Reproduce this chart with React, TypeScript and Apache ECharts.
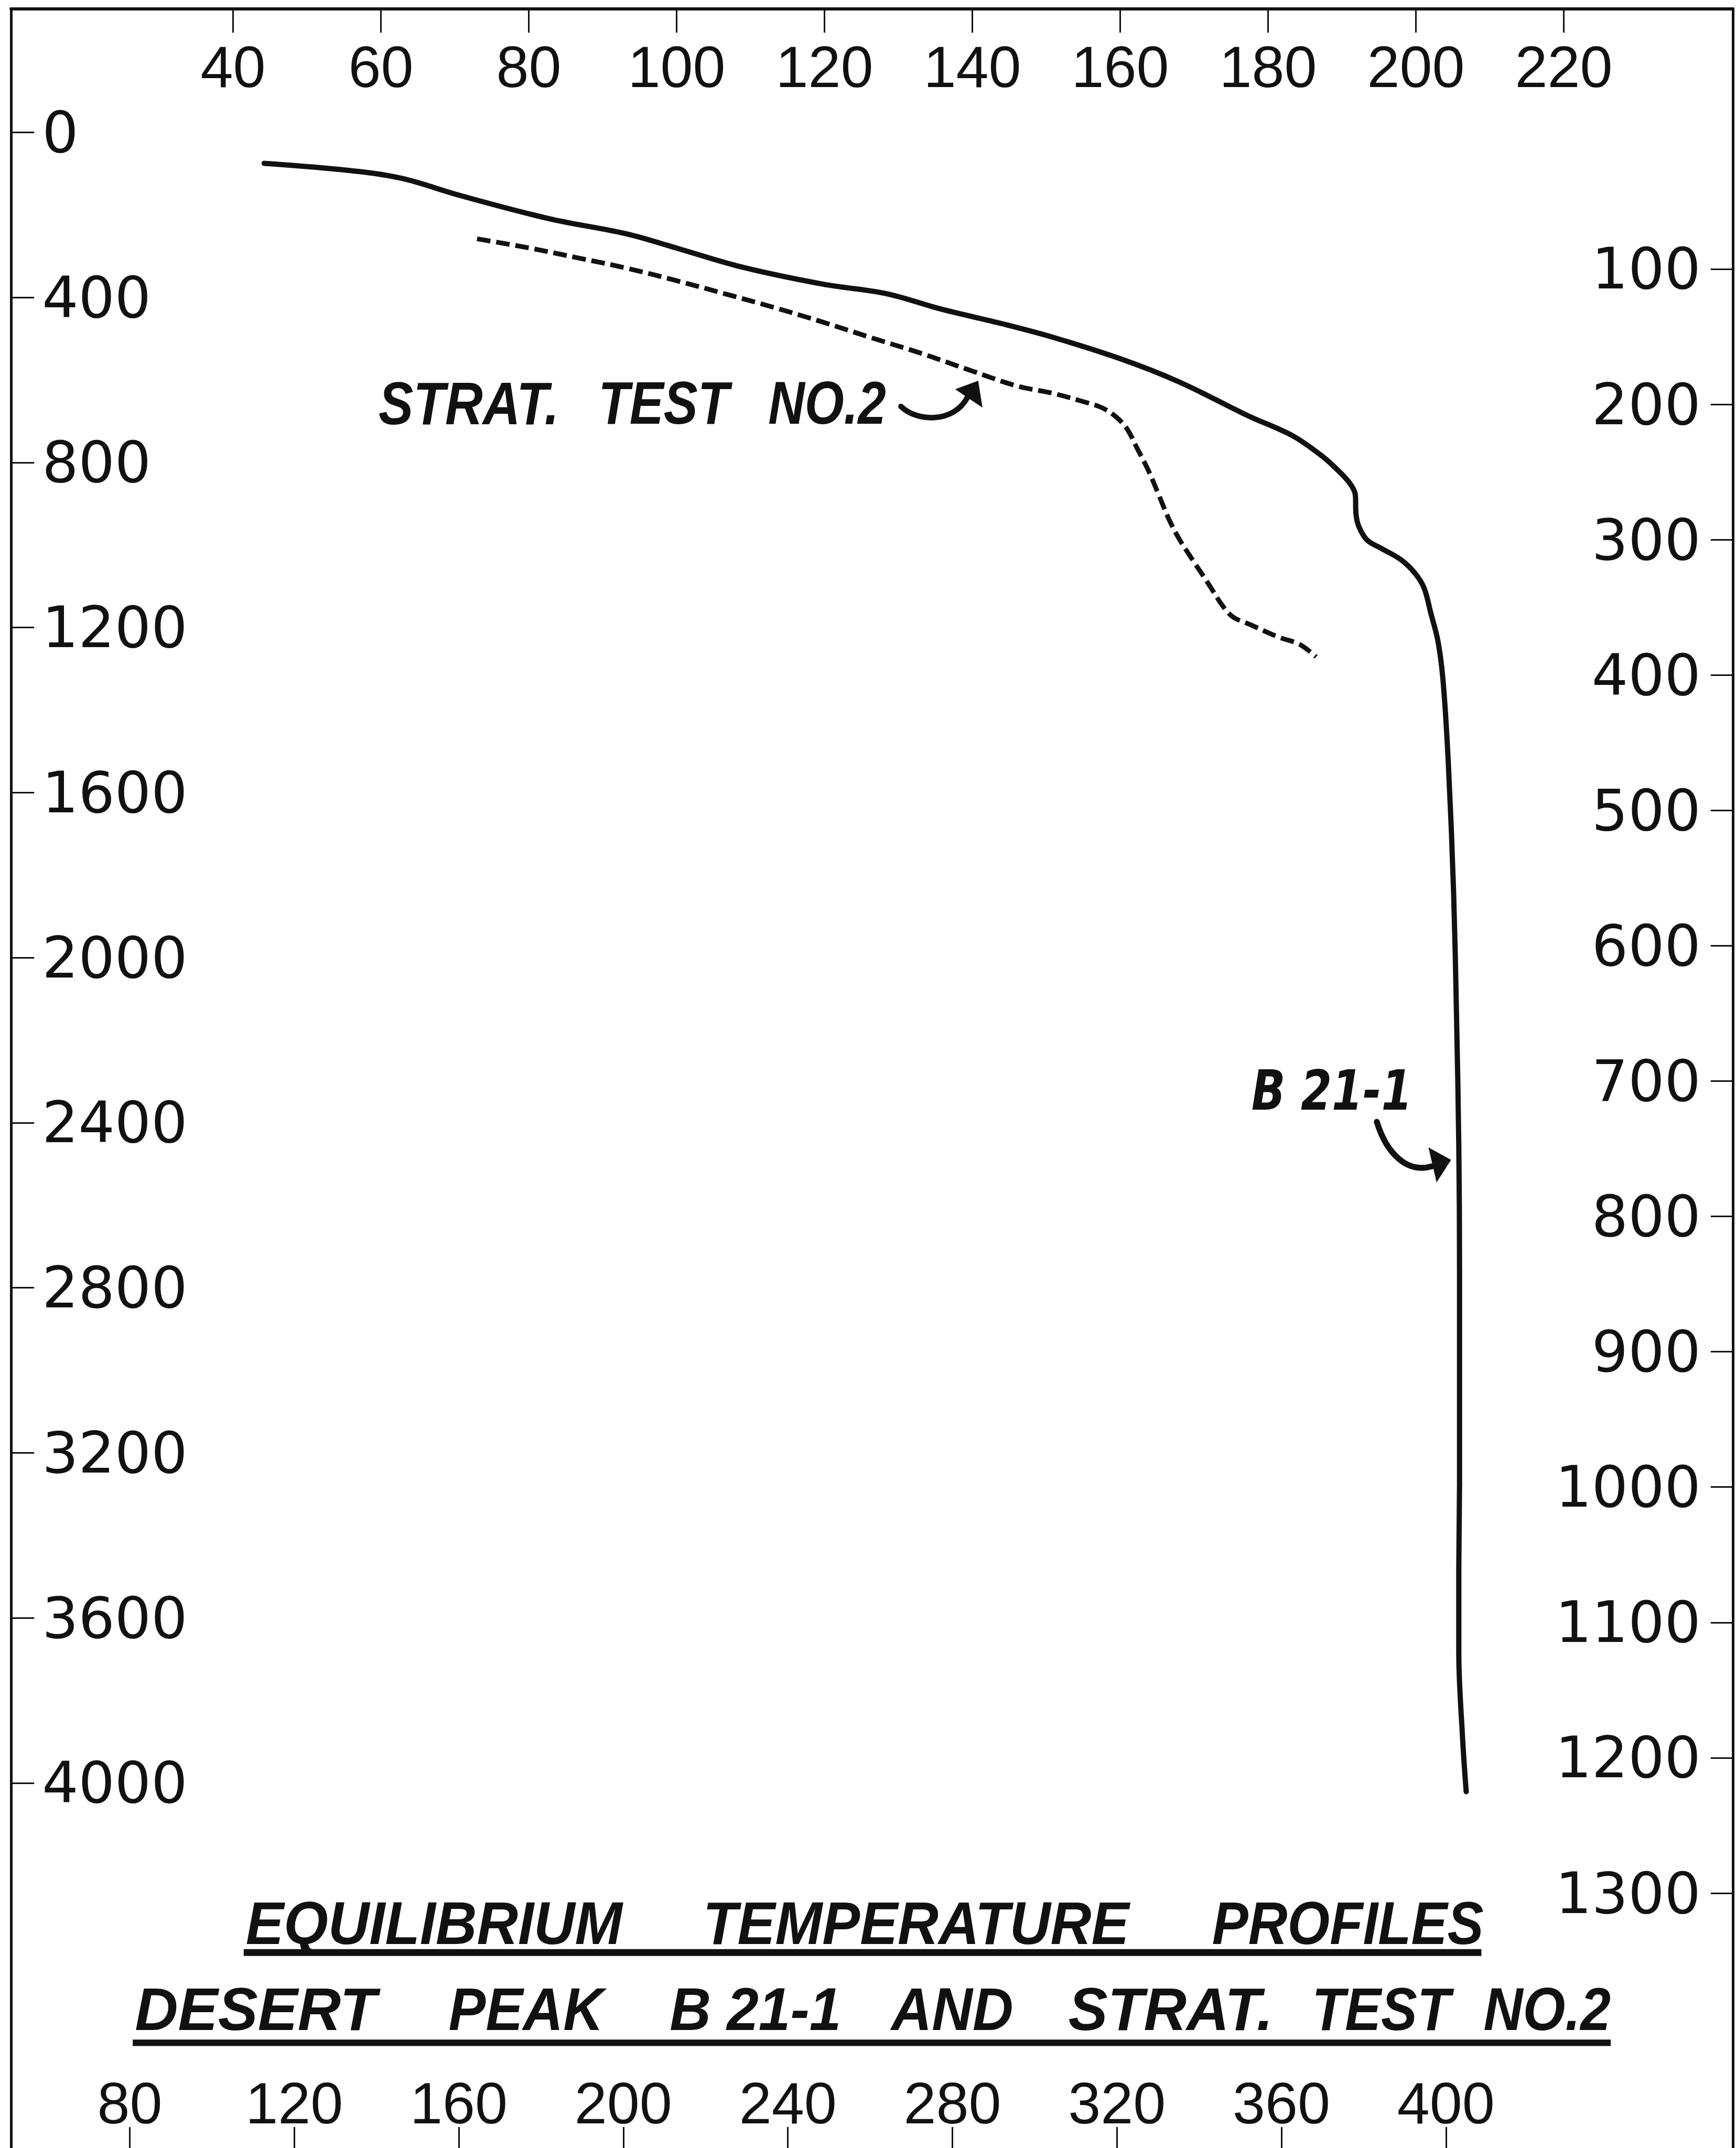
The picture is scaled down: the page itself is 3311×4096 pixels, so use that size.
import React, { useEffect, useRef } from "react";
import * as echarts from "echarts";

const S = 0.814;
const W = 3311;
const H = 4096;
const INK = "#111111";

// Axis ticks
const celsiusTicks = [40, 60, 80, 100, 120, 140, 160, 180, 200, 220];
const fahrenheitTicks = [80, 120, 160, 200, 240, 280, 320, 360, 400];
const feetTicks = [0, 400, 800, 1200, 1600, 2000, 2400, 2800, 3200, 3600, 4000];
const meterTicks = [100, 200, 300, 400, 500, 600, 700, 800, 900, 1000, 1100, 1200, 1300];

// Axis ranges
const C_MIN = 9.97, C_MAX = 242.86;
const F_MIN = 51.15, F_MAX = 469.73;
const FT_MIN = -300.05, FT_MAX = 4884.6;
const M_MIN = -92.43, M_MAX = 1488.3;

// B 21-1 : temperature (°C) vs depth (ft)
const b21Temp = [44.2, 55.5, 62.7, 70.7, 82.7, 93.2, 99.9, 108.5, 119.8, 128.4, 135.7, 144.1, 150.8, 160.4, 168.0, 177.2, 183.4, 187.2, 189.1, 191.0, 191.8, 191.9, 192.3, 193.4, 195.4, 198.0, 199.9, 201.1, 202.0, 203.0, 203.7, 204.4, 205.1, 205.5, 205.8, 205.9, 205.9, 205.9, 205.8, 205.8, 206.3, 206.8];
const b21Depth = [75, 92, 111, 153, 209, 246, 280, 325, 368, 391, 428, 464, 496, 551, 605, 686, 736, 783, 813, 849, 878, 926, 956, 988, 1009, 1036, 1069, 1104, 1164, 1235, 1335, 1535, 1843, 2149, 2456, 2763, 3070, 3275, 3479, 3683, 3888, 4021];

// Strat. Test No.2 : temperature (°C) vs depth (ft)
const stratTemp = [73.0, 80.0, 86.6, 93.2, 99.9, 106.5, 113.1, 119.8, 126.4, 133.0, 139.6, 146.1, 150.8, 155.1, 157.5, 159.4, 160.9, 162.3, 163.8, 165.2, 166.6, 168.0, 169.9, 171.9, 173.8, 175.3, 177.6, 181.4, 184.3, 186.5];
const stratDepth = [258, 280, 304, 329, 359, 391, 424, 460, 498, 535, 576, 615, 632, 653, 667, 689, 718, 766, 819, 878, 938, 986, 1039, 1093, 1146, 1175, 1193, 1223, 1241, 1271];

// Texts
const titleLine1 = ["EQUILIBRIUM", "TEMPERATURE", "PROFILES"];
const titleLine2 = ["DESERT", "PEAK", "B 21-1", "AND", "STRAT.", "TEST", "NO.2"];
const stratLabel = ["STRAT.", "TEST", "NO.2"];
const b21Label = "B 21-1";

const TITLE_FONT = '"Liberation Sans Narrow", "Liberation Sans", Arial, sans-serif';
const NUM_FONT_TB = '"Liberation Sans", Arial, sans-serif';
const NUM_FONT_LR = '"DejaVu Sans", sans-serif';

function measure(text: string, font: string): number {
  const c = document.createElement("canvas").getContext("2d");
  if (!c) return 1;
  c.font = font;
  return c.measureText(text).width || 1;
}

function fitText(text: string, x0: number, x1: number, yc: number, size: number, family: string, weight: string, style: string) {
  const fs = size * S;
  const w = measure(text, `${style} ${weight} ${fs}px ${family}`);
  const target = (x1 - x0) * S;
  return {
    type: "text",
    x: x0 * S,
    y: yc * S,
    scaleX: target / w,
    silent: true,
    style: {
      text,
      fill: INK,
      fontSize: fs,
      fontFamily: family,
      fontWeight: weight,
      fontStyle: style,
      align: "left",
      textAlign: "left",
      verticalAlign: "middle",
      textVerticalAlign: "middle",
    },
  };
}

const plain = (v: number) => String(v);

export default function App() {
  const ref = useRef<HTMLDivElement>(null);
  useEffect(() => {
    if (!ref.current) return;
    const chart = echarts.init(ref.current, null, { renderer: "svg" });

    const gridLeft = 26 * S;
    const gridTop = 20 * S;
    const gridRight = W - 4060 * S;

    const title1Pos = [[576, 1458], [1647, 2646], [2840, 3476]];
    const title2Pos = [[316, 882], [1051, 1414], [1569, 1971], [2088, 2374], [2503, 2983], [3074, 3398], [3476, 3774]];
    const stratPos = [[887, 1310], [1402, 1708], [1800, 2076]];

    const graphics: any[] = [];
    titleLine1.forEach((t, i) => graphics.push(fitText(t, title1Pos[i][0], title1Pos[i][1], 4505, 142, TITLE_FONT, "bold", "italic")));
    titleLine2.forEach((t, i) => graphics.push(fitText(t, title2Pos[i][0], title2Pos[i][1], 4706, 142, TITLE_FONT, "bold", "italic")));
    stratLabel.forEach((t, i) => graphics.push(fitText(t, stratPos[i][0], stratPos[i][1], 944, 142, TITLE_FONT, "bold", "italic")));
    graphics.push(fitText(b21Label, 2932, 3309, 2555, 129, NUM_FONT_LR, "bold", "italic"));

    // underlines
    graphics.push({ type: "rect", silent: true, shape: { x: 571 * S, y: 4566 * S, width: (3471 - 571) * S, height: 16 * S }, style: { fill: INK } });
    graphics.push({ type: "rect", silent: true, shape: { x: 311 * S, y: 4778 * S, width: (3774 - 311) * S, height: 15 * S }, style: { fill: INK } });

    // arrow for STRAT. TEST NO.2
    graphics.push({
      type: "bezierCurve", silent: true,
      shape: { x1: 2111 * S, y1: 952 * S, cpx1: 2150 * S, cpy1: 990 * S, cpx2: 2235 * S, cpy2: 990 * S, x2: 2266 * S, y2: 932 * S },
      style: { stroke: INK, lineWidth: 13 * S, fill: null, lineCap: "round" },
    });
    graphics.push({
      type: "polygon", silent: true,
      shape: { points: [[2292 * S, 892 * S], [2238 * S, 912 * S], [2302 * S, 955 * S]] },
      style: { fill: INK },
    });

    // arrow for B 21-1
    graphics.push({
      type: "bezierCurve", silent: true,
      shape: { x1: 3226 * S, y1: 2628 * S, cpx1: 3248 * S, cpy1: 2700 * S, cpx2: 3295 * S, cpy2: 2750 * S, x2: 3356 * S, y2: 2732 * S },
      style: { stroke: INK, lineWidth: 14 * S, fill: null, lineCap: "round" },
    });
    graphics.push({
      type: "polygon", silent: true,
      shape: { points: [[3400 * S, 2717 * S], [3347 * S, 2688 * S], [3366 * S, 2770 * S]] },
      style: { fill: INK },
    });

    chart.setOption({
      animation: false,
      backgroundColor: "#ffffff",
      grid: { left: gridLeft, top: gridTop, right: gridRight, bottom: 0, containLabel: false },
      xAxis: [
        {
          type: "value", position: "top", min: C_MIN, max: C_MAX,
          splitLine: { show: false },
          axisLine: { show: true, onZero: false, lineStyle: { color: INK, width: 6 } },
          axisTick: { show: true, inside: true, length: 46, customValues: celsiusTicks, lineStyle: { color: INK, width: 3 } },
          axisLabel: { show: true, inside: true, margin: 55, customValues: celsiusTicks, formatter: plain, color: INK, fontSize: 111.5, fontFamily: NUM_FONT_TB },
        },
        {
          type: "value", position: "bottom", min: F_MIN, max: F_MAX,
          splitLine: { show: false },
          axisLine: { show: false, onZero: false },
          axisTick: { show: true, inside: true, length: 40, customValues: fahrenheitTicks, lineStyle: { color: INK, width: 3 } },
          axisLabel: { show: true, inside: true, margin: 30, customValues: fahrenheitTicks, formatter: plain, color: INK, fontSize: 111.5, fontFamily: NUM_FONT_TB },
        },
      ],
      yAxis: [
        {
          type: "value", position: "left", inverse: true, min: FT_MIN, max: FT_MAX,
          splitLine: { show: false },
          axisLine: { show: true, onZero: false, lineStyle: { color: INK, width: 5 } },
          axisTick: { show: true, inside: true, length: 44, customValues: feetTicks, lineStyle: { color: INK, width: 3 } },
          axisLabel: { show: true, inside: true, margin: 59, customValues: feetTicks, formatter: plain, color: INK, fontSize: 109, fontFamily: NUM_FONT_LR },
        },
        {
          type: "value", position: "right", inverse: true, min: M_MIN, max: M_MAX,
          splitLine: { show: false },
          axisLine: { show: true, onZero: false, lineStyle: { color: INK, width: 5 } },
          axisTick: { show: true, inside: true, length: 42, customValues: meterTicks, lineStyle: { color: INK, width: 3 } },
          axisLabel: { show: true, inside: true, margin: 61, customValues: meterTicks, formatter: plain, color: INK, fontSize: 109, fontFamily: NUM_FONT_LR },
        },
      ],
      series: [
        {
          name: "B 21-1", type: "line", xAxisIndex: 0, yAxisIndex: 0,
          data: b21Temp.map((t, i) => [t, b21Depth[i]]),
          symbol: "none", showSymbol: false, smooth: 0.35,
          lineStyle: { color: INK, width: 10, cap: "round", join: "round" },
        },
        {
          name: "STRAT. TEST NO.2", type: "line", xAxisIndex: 0, yAxisIndex: 0,
          data: stratTemp.map((t, i) => [t, stratDepth[i]]),
          symbol: "none", showSymbol: false, smooth: 0.35,
          lineStyle: { color: INK, width: 9, type: [26, 11] },
        },
      ],
      graphic: graphics,
    });
    return () => chart.dispose();
  }, []);
  return <div ref={ref} style={{ position: "fixed", left: 0, top: 0, width: W, height: H, background: "#fff" }} />;
}
